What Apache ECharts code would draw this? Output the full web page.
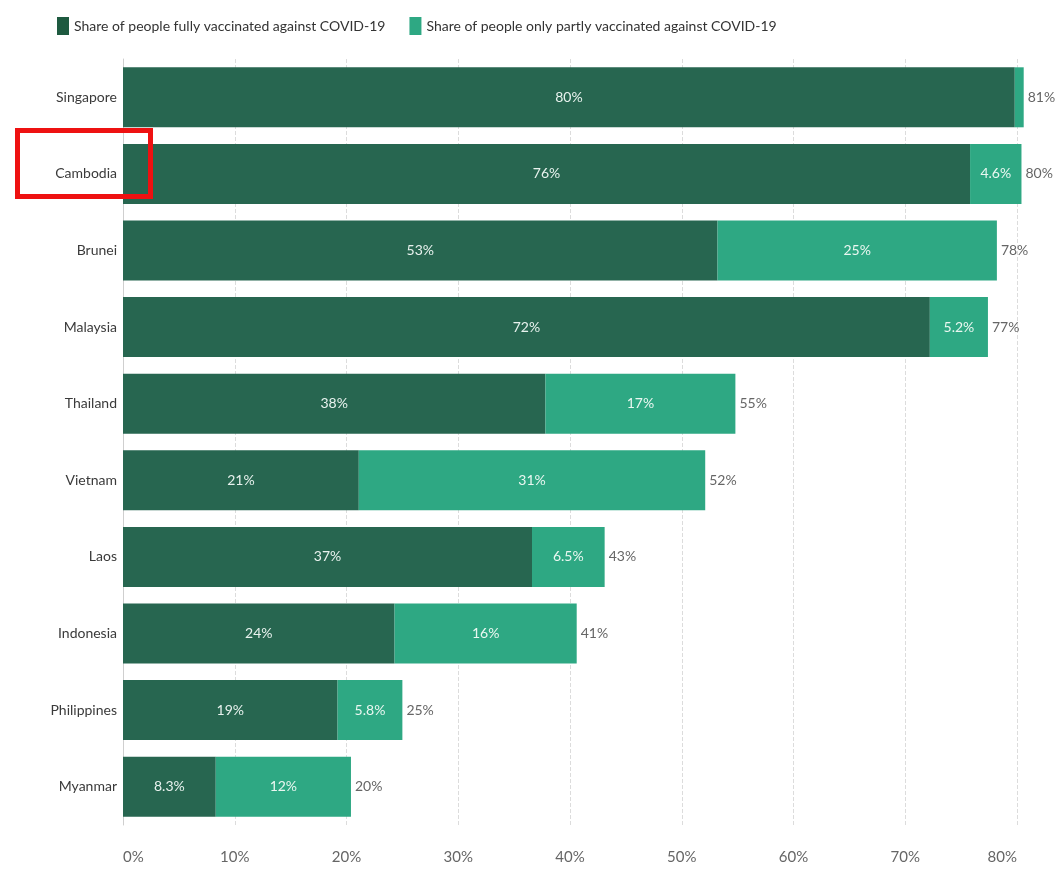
<!DOCTYPE html>
<html>
<head>
<meta charset="utf-8">
<script src="https://cdn.jsdelivr.net/npm/echarts@6/dist/echarts.min.js"></script>
<style>
  html, body { margin: 0; padding: 0; background: #fff; }
  #chart { width: 1056px; height: 875px; }
</style>
</head>
<body>
<div id="chart"></div>
<script>
// Countries, top to bottom
const countries = ['Singapore', 'Cambodia', 'Brunei', 'Malaysia', 'Thailand', 'Vietnam', 'Laos', 'Indonesia', 'Philippines', 'Myanmar'];
// Share fully vaccinated (%)
const fullyVaccinated = [79.8, 75.8, 53.2, 72.2, 37.8, 21.1, 36.6, 24.3, 19.2, 8.3];
// Share only partly vaccinated (%)
const partlyVaccinated = [0.8, 4.6, 25.0, 5.2, 17.0, 31.0, 6.5, 16.3, 5.8, 12.1];
// Axis ticks (%)
const xTicks = [0, 10, 20, 30, 40, 50, 60, 70, 80];

const FONT = 'Lato, sans-serif';
const DARK = '#276650';
const LIGHT = '#2ea883';

function fmt(v) {
  return (v < 10 ? v.toFixed(1) : Math.round(v).toString()) + '%';
}
const totals = fullyVaccinated.map((v, i) => v + partlyVaccinated[i]);

const chart = echarts.init(document.getElementById('chart'));
chart.setOption({
  animation: false,
  textStyle: { fontFamily: FONT },
  legend: {
    left: 52, top: 12,
    itemWidth: 12, itemHeight: 18, itemGap: 24,
    icon: 'rect',
    textStyle: { fontFamily: FONT, fontSize: 14, color: '#333' },
    data: [
      { name: 'Share of people fully vaccinated against COVID-19', itemStyle: { color: '#1e5a40' } },
      { name: 'Share of people only partly vaccinated against COVID-19', itemStyle: { color: LIGHT } }
    ]
  },
  grid: { left: 123, right: 39, top: 59, bottom: 50, containLabel: false },
  xAxis: {
    type: 'value', min: xTicks[0], max: xTicks[xTicks.length - 1], interval: 10,
    axisLine: { show: false },
    axisTick: { show: false },
    axisLabel: {
      formatter: '{value}%', fontFamily: FONT, fontSize: 15, color: '#666', margin: 25,
      alignMinLabel: 'left', alignMaxLabel: 'right'
    },
    splitLine: { show: true, lineStyle: { type: 'dashed', color: '#dcdcdc', width: 1 } }
  },
  yAxis: {
    type: 'category', data: countries, inverse: true,
    axisLine: { show: true, lineStyle: { color: '#cfcfcf' } },
    axisTick: { show: false },
    axisLabel: { fontFamily: FONT, fontSize: 14, color: '#3a3a3a', margin: 6 }
  },
  series: [
    {
      name: 'Share of people fully vaccinated against COVID-19',
      type: 'bar', stack: 'v', barWidth: 60, clip: false,
      itemStyle: { color: DARK },
      label: {
        show: true, position: 'inside', color: '#e8f2ee', fontFamily: FONT, fontSize: 14,
        formatter: p => fmt(p.value)
      },
      data: fullyVaccinated
    },
    {
      name: 'Share of people only partly vaccinated against COVID-19',
      type: 'bar', stack: 'v', barWidth: 60, clip: false,
      itemStyle: { color: LIGHT },
      label: {
        show: true, position: 'inside', color: '#eaf7f1', fontFamily: FONT, fontSize: 14,
        formatter: p => p.value < 2 ? '' : fmt(p.value)
      },
      data: partlyVaccinated
    },
    {
      name: 'total',
      type: 'bar', stack: 'v', barWidth: 60, clip: false, silent: true,
      itemStyle: { color: 'transparent' },
      label: {
        show: true, position: 'right', distance: 4, color: '#666', fontFamily: FONT, fontSize: 14,
        formatter: p => Math.round(totals[p.dataIndex]) + '%'
      },
      data: countries.map(() => 0)
    }
  ],
  graphic: [
    {
      type: 'rect', left: 15, top: 128,
      shape: { width: 133, height: 66 },
      style: { fill: 'none', stroke: '#ee1111', lineWidth: 5 },
      z: 100
    }
  ]
});
</script>
</body>
</html>
